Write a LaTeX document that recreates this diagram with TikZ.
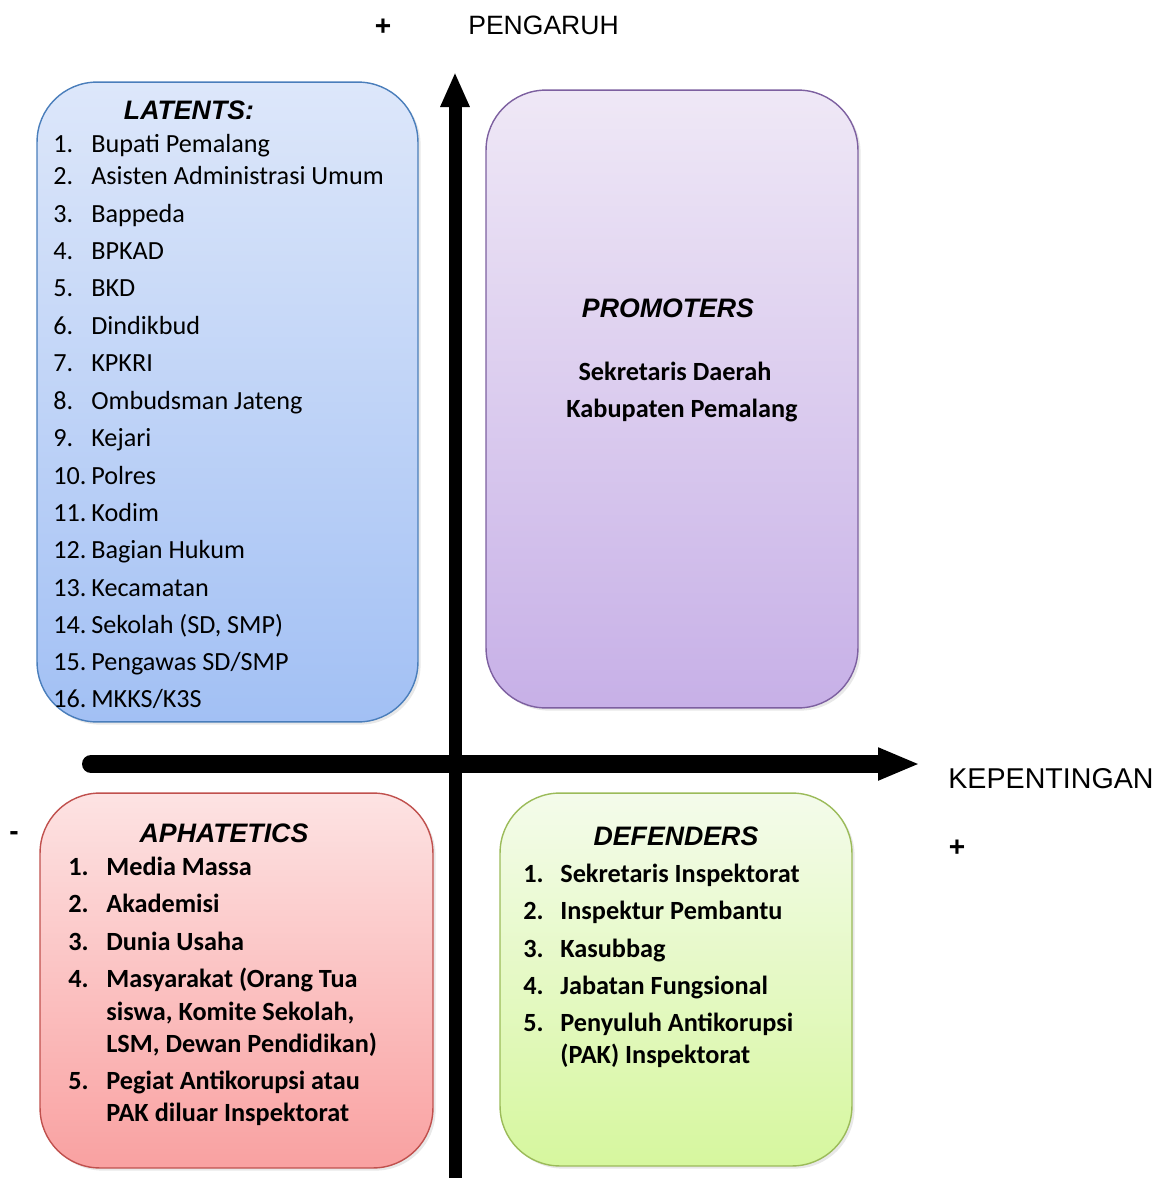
\documentclass[tikz,border=0pt]{standalone}
\usepackage{fontspec}
\setmainfont{Carlito}
\newfontfamily\arialfont{Liberation Sans}
\usetikzlibrary{arrows.meta,shadows}

\definecolor{latline}{HTML}{4A7EBB}
\definecolor{lattop}{HTML}{DDE7FA}
\definecolor{latbot}{HTML}{A2C0F4}
\definecolor{proline}{HTML}{7D60A0}
\definecolor{protop}{HTML}{EFE8F6}
\definecolor{probot}{HTML}{C7B0E7}
\definecolor{aphline}{HTML}{C0504D}
\definecolor{aphtop}{HTML}{FDE3E3}
\definecolor{aphbot}{HTML}{F9A1A1}
\definecolor{defline}{HTML}{9BBB59}
\definecolor{deftop}{HTML}{F4FBEB}
\definecolor{defbot}{HTML}{D6F79E}

\begin{document}
\begin{tikzpicture}[x=0.02cm, y=-0.02cm,
  quad/.style={rectangle, rounded corners=1.2cm, line width=0.8pt, inner sep=0pt,
    drop shadow={opacity=0.18, shadow xshift=1.5pt, shadow yshift=-1.5pt}},
  title/.style={font=\arialfont\fontsize{15.2}{18}\selectfont\bfseries\itshape},
  item/.style={anchor=base west, inner sep=0pt, font=\fontsize{14.9}{17}\selectfont},
  bitem/.style={item, font=\fontsize{14.95}{17}\selectfont\bfseries},
  axislabel/.style={anchor=west, inner sep=0pt, font=\arialfont\fontsize{15.5}{18}\selectfont},
  sign/.style={inner sep=0pt, font=\arialfont\fontsize{16}{18}\selectfont\bfseries}]
\useasboundingbox (0,0) rectangle (1170,1178);

% quadrant boxes
\node[quad, draw=latline, top color=lattop, bottom color=latbot,
  minimum width=7.62cm, minimum height=12.8cm] (latents) at (227.5,402) {};
\node[quad, draw=proline, top color=protop, bottom color=probot,
  minimum width=7.44cm, minimum height=12.36cm] (promoters) at (672,399) {};
\node[quad, draw=aphline, top color=aphtop, bottom color=aphbot,
  minimum width=7.86cm, minimum height=7.5cm] (aphatetics) at (236.5,980.5) {};
\node[quad, draw=defline, top color=deftop, bottom color=defbot,
  minimum width=7.04cm, minimum height=7.46cm] (defenders) at (676,979.5) {};

% axes
\coordinate (ybot) at (455,1180);
\coordinate (ytop) at (455,72);
\coordinate (xleft) at (91,764);
\coordinate (xright) at (920,764);
\draw[line width=0.26cm, -{Triangle[length=0.7cm, width=0.54cm]}] (ybot) -- (ytop);
\draw[line width=0.36cm, line cap=round, -{Triangle[length=0.84cm, width=0.6cm]}] (xleft) -- (xright);

\node[sign] (yplus) at (383,27) {+};
\node[axislabel, font=\arialfont\fontsize{15.1}{18}\selectfont] (pengaruh) at (468,25) {PENGARUH};
\node[axislabel, font=\arialfont\fontsize{16.3}{18}\selectfont] (kepentingan) at (948,779) {KEPENTINGAN};
\node[sign] (xplus) at (957,848) {+};
\node[sign] (xminus) at (14,836) {-};

% latents
\node[title] (lattitle) at (189,110) {LATENTS:};
\foreach \k/\y/\t in {1/152/{Bupati Pemalang}, 2/184/{Asisten Administrasi Umum},
  3/222/{Bappeda}, 4/259/{BPKAD}, 5/296/{BKD}, 6/334/{Dindikbud}, 7/371/{KPKRI},
  8/409/{Ombudsman Jateng}, 9/446/{Kejari}, 10/484/{Polres}, 11/521/{Kodim},
  12/558/{Bagian Hukum}, 13/596/{Kecamatan}, 14/633/{Sekolah (SD, SMP)},
  15/670/{Pengawas SD/SMP}, 16/707/{MKKS/K3S}}
  \node[item] (lat\k) at (53,\y) {\makebox[0.76cm][l]{\k.}\t};

% promoters
\node[title] (protitle) at (668,308) {PROMOTERS};
\node[bitem, anchor=base] (pro1) at (675,380) {Sekretaris Daerah};
\node[bitem, anchor=base] (pro2) at (682,417) {Kabupaten Pemalang};

% aphatetics
\node[title] (aphtitle) at (224,833) {APHATETICS};
\foreach \k/\y/\n/\t in {1/875/1./{Media Massa}, 2/912/2./{Akademisi},
  3/950/3./{Dunia Usaha}, 4/987/4./{Masyarakat (Orang Tua},
  4b/1020//{siswa, Komite Sekolah,}, 4c/1052//{LSM, Dewan Pendidikan)},
  5/1089/5./{Pegiat Antikorupsi atau}, 5b/1121//{PAK diluar Inspektorat}}
  \node[bitem] (aph\k) at (68,\y) {\makebox[0.76cm][l]{\n}\t};

% defenders
\node[title] (deftitle) at (676,836) {DEFENDERS};
\foreach \k/\y/\n/\t in {1/882/1./{Sekretaris Inspektorat}, 2/919/2./{Inspektur Pembantu},
  3/957/3./{Kasubbag}, 4/994/4./{Jabatan Fungsional},
  5/1031/5./{Penyuluh Antikorupsi}, 5b/1063//{(PAK) Inspektorat}}
  \node[bitem] (def\k) at (523,\y) {\makebox[0.74cm][l]{\n}\t};
\end{tikzpicture}
\end{document}
